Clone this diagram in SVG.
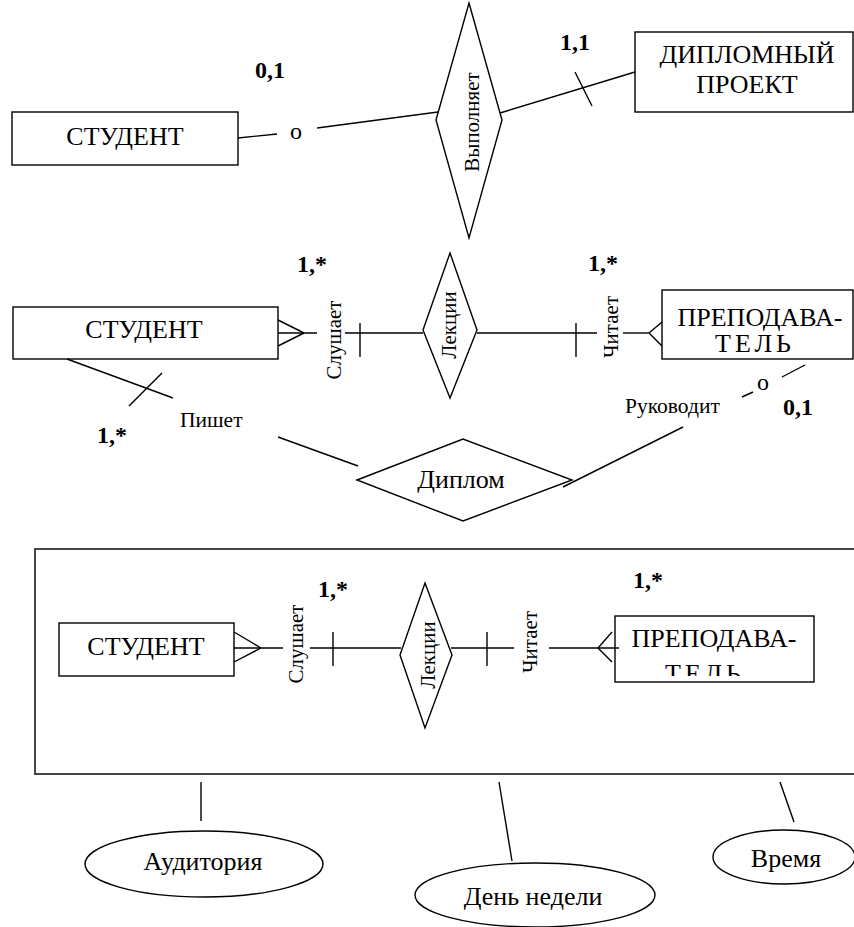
<svg xmlns="http://www.w3.org/2000/svg" width="854" height="927" viewBox="0 0 854 927" font-family="'Liberation Serif', 'DejaVu Serif', serif">
  <style>
    .shape { fill: #fff; stroke: #000; stroke-width: 1.4; }
    .frame { fill: none; stroke: #333; stroke-width: 1.8; }
    .ln { fill: none; stroke: #000; stroke-width: 1.4; }
    text { font-family: "Liberation Serif", "DejaVu Serif", serif; fill: #000; }
    .big { font-size: 26px; text-anchor: middle; }
    .rot { font-size: 21px; text-anchor: middle; }
    .lbl { font-size: 21.5px; }
    .card { font-size: 24px; font-weight: bold; }
    .opt { font-size: 24px; text-anchor: middle; }
  </style>
  <defs>
    <clipPath id="clipTeacher3">
      <rect x="615" y="616" width="199" height="60"/>
    </clipPath>
  </defs>

  <!-- Section 1: student performs diploma project -->
  <g id="student1">
    <rect class="shape" x="12" y="112" width="226" height="53"/>
    <text class="big" x="125" y="145">СТУДЕНТ</text>
  </g>
  <g id="rel-performs">
    <polygon class="shape" points="469,3 502,120 469,238 436,120"/>
    <text class="rot" transform="rotate(-90 479 122)" x="479" y="122">Выполняет</text>
  </g>
  <g id="project">
    <rect class="shape" x="635" y="32" width="218" height="80"/>
    <text class="big" x="747" y="63">ДИПЛОМНЫЙ</text>
    <text class="big" x="747" y="93">ПРОЕКТ</text>
  </g>

  <!-- Section 2: student, lectures, teacher, diploma -->
  <g id="student2">
    <rect class="shape" x="13" y="307" width="265" height="52"/>
    <text class="big" x="144" y="338">СТУДЕНТ</text>
  </g>
  <g id="rel-lectures2">
    <polygon class="shape" points="450,253 477,330 450,398 423,330"/>
    <text class="rot" transform="rotate(-90 456 325)" x="456" y="325">Лекции</text>
  </g>
  <g id="teacher2">
    <rect class="shape" x="662" y="290" width="191" height="69"/>
    <text class="big" x="760" y="326">ПРЕПОДАВА-</text>
    <text class="big" x="755" y="352" letter-spacing="4">ТЕЛЬ</text>
  </g>
  <g id="rel-diploma">
    <polygon class="shape" points="357,480 463,439 572,480 463,521"/>
    <text class="big" x="461" y="488">Диплом</text>
  </g>

  <!-- Section 3: aggregated lectures with attributes -->
  <g id="lecture-aggregate">
    <rect class="frame" x="35" y="549" width="830" height="225"/>
  </g>
  <g id="student3">
    <rect class="shape" x="59" y="623" width="175" height="53"/>
    <text class="big" x="146" y="655">СТУДЕНТ</text>
  </g>
  <g id="rel-lectures3">
    <polygon class="shape" points="425,583 452,655 425,728 400,655"/>
    <text class="rot" transform="rotate(-90 435 655)" x="435" y="655">Лекции</text>
  </g>
  <g id="teacher3">
    <rect class="shape" x="615" y="616" width="199" height="66"/>
    <g clip-path="url(#clipTeacher3)">
      <text class="big" x="714" y="647">ПРЕПОДАВА-</text>
      <text class="big" x="705" y="682" letter-spacing="4">ТЕЛЬ</text>
    </g>
  </g>
  <g id="attr-room">
    <ellipse class="shape" cx="204" cy="864" rx="119" ry="33"/>
    <text class="big" x="203" y="870">Аудитория</text>
  </g>
  <g id="attr-weekday">
    <ellipse class="shape" cx="535" cy="895" rx="120" ry="32"/>
    <text class="big" x="533" y="905">День недели</text>
  </g>
  <g id="attr-time">
    <ellipse class="shape" cx="784" cy="857" rx="71" ry="27"/>
    <text class="big" x="786" y="867">Время</text>
  </g>

  <!-- Connectors -->
  <g id="connectors">
    <!-- student 1 to performs (optional) -->
    <line class="ln" x1="238" y1="138" x2="277" y2="134"/>
    <text class="opt" x="296" y="139">o</text>
    <line class="ln" x1="317" y1="128" x2="438" y2="112"/>
    <!-- performs to project (mandatory) -->
    <line class="ln" x1="500" y1="113" x2="635" y2="72"/>
    <line class="ln" x1="575" y1="72" x2="592" y2="106"/>

    <!-- student 2 to lectures -->
    <line class="ln" x1="278" y1="333" x2="317" y2="333"/>
    <line class="ln" x1="278" y1="320" x2="304" y2="333"/>
    <line class="ln" x1="278" y1="346" x2="304" y2="333"/>
    <text class="rot" transform="rotate(-90 341 340)" x="341" y="340">Слушает</text>
    <line class="ln" x1="345" y1="333" x2="423" y2="333"/>
    <line class="ln" x1="360" y1="323" x2="360" y2="357"/>
    <!-- lectures to teacher 2 -->
    <line class="ln" x1="477" y1="333" x2="597" y2="333"/>
    <line class="ln" x1="576" y1="323" x2="576" y2="357"/>
    <text class="rot" transform="rotate(-90 618 327)" x="618" y="327">Читает</text>
    <line class="ln" x1="623" y1="333" x2="649" y2="333"/>
    <line class="ln" x1="662" y1="322" x2="649" y2="333"/>
    <line class="ln" x1="662" y1="346" x2="649" y2="333"/>

    <!-- student 2 writes diploma -->
    <line class="ln" x1="67" y1="359" x2="173" y2="398"/>
    <line class="ln" x1="162" y1="373" x2="129" y2="406"/>
    <text class="lbl" x="180" y="427">Пишет</text>
    <line class="ln" x1="278" y1="437" x2="358" y2="466"/>
    <!-- teacher 2 supervises diploma (optional) -->
    <line class="ln" x1="805" y1="365" x2="782" y2="377"/>
    <text class="opt" x="763" y="390" font-size="20">o</text>
    <line class="ln" x1="753" y1="392" x2="742" y2="397"/>
    <text class="lbl" x="625" y="413">Руководит</text>
    <line class="ln" x1="683" y1="427" x2="563" y2="487"/>

    <!-- student 3 to lectures -->
    <line class="ln" x1="234" y1="648" x2="283" y2="648"/>
    <line class="ln" x1="234" y1="632" x2="261" y2="648"/>
    <line class="ln" x1="234" y1="662" x2="261" y2="648"/>
    <text class="rot" transform="rotate(-90 303 644)" x="303" y="644">Слушает</text>
    <line class="ln" x1="310" y1="648" x2="401" y2="648"/>
    <line class="ln" x1="333" y1="632" x2="333" y2="666"/>
    <!-- lectures to teacher 3 -->
    <line class="ln" x1="451" y1="648" x2="514" y2="648"/>
    <line class="ln" x1="487" y1="632" x2="487" y2="666"/>
    <text class="rot" transform="rotate(-90 537 642)" x="537" y="642">Читает</text>
    <line class="ln" x1="549" y1="648" x2="619" y2="648"/>
    <line class="ln" x1="612" y1="632" x2="598" y2="648"/>
    <line class="ln" x1="612" y1="662" x2="598" y2="648"/>

    <!-- aggregate to attributes -->
    <line class="ln" x1="201" y1="782" x2="201" y2="821"/>
    <line class="ln" x1="499" y1="782" x2="512" y2="861"/>
    <line class="ln" x1="780" y1="782" x2="794" y2="822"/>
  </g>

  <!-- Cardinalities -->
  <g id="cardinalities">
    <text class="card" x="255" y="78">0,1</text>
    <text class="card" x="560" y="50">1,1</text>
    <text class="card" x="297" y="272">1,*</text>
    <text class="card" x="588" y="271">1,*</text>
    <text class="card" x="97" y="443">1,*</text>
    <text class="card" x="783" y="415">0,1</text>
    <text class="card" x="318" y="597">1,*</text>
    <text class="card" x="633" y="588">1,*</text>
  </g>
</svg>
